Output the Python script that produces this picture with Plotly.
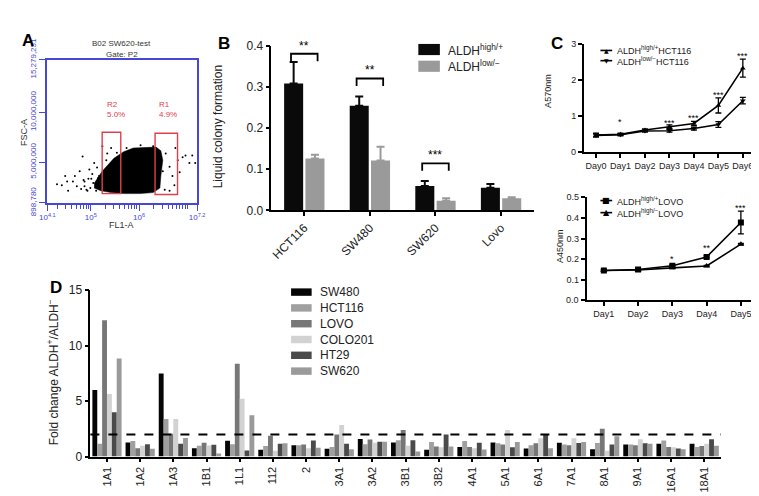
import numpy as np
import plotly.graph_objects as go

W, H = 759, 496
FONT = "Liberation Sans, Arial, Helvetica, sans-serif"
BLUE = "#4646d8"
RED = "#e0404c"

# ---------------- Panel A (flow cytometry) ----------------
a_title = "B02 SW620-test"
a_gate = "Gate: P2"
a_xtick_exp = [4.1, 5, 6, 7.2]
a_xtick_text = ["10<sup>4.1</sup>", "10<sup>5</sup>", "10<sup>6</sup>", "10<sup>7.2</sup>"]
a_ytick_vals = [898780, 5000000, 10000000, 15279251]
a_ytick_text = ["898,780", "5,000,000", "10,000,000", "15,279,251"]
# dense core outline (log10 FL1-A, FSC-A in millions)
a_core_logx = [5.07, 5.235, 5.478, 5.68, 5.88, 6.15, 6.35, 6.45, 6.49, 6.45,
               6.43, 6.29, 6.02, 5.68, 5.42, 5.21, 5.07]
a_core_fsc_m = [2.86, 4.07, 5.38, 6.04, 6.41, 6.50, 6.50, 6.13, 5.19, 3.61,
                2.39, 1.93, 1.83, 1.83, 1.93, 2.11, 2.39]
# sparse events
a_event_logx = [4.30, 4.47, 4.51, 4.53, 4.67, 4.71, 4.77, 4.83, 4.87, 4.97,
                5.07, 5.17, 5.24, 5.34, 5.42, 5.48, 6.55, 6.63, 6.69, 6.73,
                6.80, 6.84, 6.75, 6.90, 6.96, 7.10, 7.16, 7.04, 4.40, 4.63,
                4.93, 5.11, 5.01, 5.13, 5.32, 6.49, 6.53, 6.63, 6.43, 6.29,
                6.03, 5.74, 5.54, 4.87, 4.95, 5.03, 4.91, 4.99, 5.05, 4.85,
                5.15, 4.80]
a_event_fsc_m = [2.77, 3.61, 3.05, 2.11, 3.61, 2.58, 4.07, 5.57, 3.05, 4.26,
                 4.91, 3.61, 6.60, 5.85, 6.41, 2.11, 5.85, 4.54, 3.61, 2.67,
                 5.19, 3.98, 6.41, 5.47, 5.66, 5.66, 4.91, 4.91, 2.67, 3.05,
                 2.11, 2.11, 3.33, 4.45, 5.19, 4.07, 2.21, 2.11, 5.94, 6.60,
                 6.69, 6.41, 5.94, 2.58, 3.33, 3.79, 2.21, 2.40, 2.90, 3.20,
                 3.40, 2.30]
gate_names = ["R2", "R1"]
gate_pct = ["5.0%", "4.9%"]
gate_logx0 = [5.235, 6.33]
gate_logx1 = [5.62, 6.795]
gate_fsc0_m = [1.83, 1.74]
gate_fsc1_m = [7.99, 7.90]
gate_label_logx = [5.29, 6.37]
gate_label_fsc_m = [10.3, 10.3]

# ---------------- Panel B ----------------
b_lines = ["HCT116", "SW480", "SW620", "Lovo"]
b_high = [0.308, 0.254, 0.059, 0.055]
b_high_err = [0.052, 0.022, 0.012, 0.009]
b_low = [0.126, 0.121, 0.023, 0.029]
b_low_err = [0.009, 0.033, 0.006, 0.003]
b_sig_idx = [0, 1, 2]
b_sig_y = [0.38, 0.32, 0.114]
b_sig_text = ["**", "**", "***"]
b_yticks = [0.0, 0.1, 0.2, 0.3, 0.4]
b_names = ["ALDH<sup>high/+</sup>", "ALDH<sup>low/\u2212</sup>"]

# ---------------- Panel C ----------------
c1_days = ["Day0", "Day1", "Day2", "Day3", "Day4", "Day5", "Day6"]
c1_high = [0.48, 0.50, 0.62, 0.71, 0.80, 1.30, 2.33]
c1_high_err = [0.05, 0.03, 0.03, 0.05, 0.06, 0.21, 0.25]
c1_low = [0.47, 0.49, 0.59, 0.60, 0.66, 0.77, 1.43]
c1_low_err = [0.04, 0.03, 0.03, 0.04, 0.04, 0.08, 0.09]
c1_sig_idx = [1, 3, 4, 5, 6]
c1_sig_y = [0.90, 0.87, 1.00, 1.63, 2.72]
c1_sig_text = ["*", "***", "***", "***", "***"]
c1_names = ["ALDH<sup>high/+</sup>HCT116", "ALDH<sup>low/\u2212</sup>HCT116"]
c1_yticks = [0, 1, 2, 3]
c1_yticktext = ["0", "1", "2", "3"]

c2_days = ["Day1", "Day2", "Day3", "Day4", "Day5"]
c2_high = [0.145, 0.150, 0.168, 0.211, 0.378]
c2_high_err = [0.004, 0.004, 0.005, 0.005, 0.055]
c2_low = [0.145, 0.148, 0.158, 0.167, 0.273]
c2_low_err = [0.003, 0.003, 0.003, 0.003, 0.004]
c2_sig_idx = [2, 3, 4]
c2_sig_y = [0.21, 0.264, 0.458]
c2_sig_text = ["*", "**", "***"]
c2_names = ["ALDH<sup>high/+</sup>LOVO", "ALDH<sup>high/\u2212</sup>LOVO"]
c2_yticks = [0.0, 0.1, 0.2, 0.3, 0.4, 0.5]
c2_yticktext = ["0.0", "0.1", "0.2", "0.3", "0.4", "0.5"]

# ---------------- Panel D ----------------
d_genes = ["1A1", "1A2", "1A3", "1B1", "1L1", "112", "2", "3A1", "3A2", "3B1",
           "3B2", "4A1", "5A1", "6A1", "7A1", "8A1", "9A1", "16A1", "18A1"]
d_series = ["SW480", "HCT116", "LOVO", "COLO201", "HT29", "SW620"]
d_sw480 = [6.0, 1.28, 7.5, 0.75, 1.42, 0.61, 1.03, 0.70, 1.59, 1.28,
           0.61, 0.87, 1.28, 0.73, 1.26, 0.67, 1.09, 1.15, 1.15]
d_hct116 = [1.17, 1.40, 3.38, 0.98, 1.12, 0.95, 1.03, 0.87, 1.12, 1.48,
            1.31, 1.40, 1.20, 1.03, 1.09, 1.23, 1.09, 1.45, 0.87]
d_lovo = [12.3, 0.75, 2.07, 1.26, 8.38, 1.87, 1.09, 2.00, 1.54, 2.40,
          0.92, 0.87, 1.09, 1.20, 1.03, 2.51, 1.03, 0.87, 0.95]
d_colo201 = [5.65, 0.98, 3.38, 1.00, 5.22, 0.53, 0.75, 2.85, 1.26, 0.98,
             0.84, 0.75, 2.40, 1.65, 1.65, 0.53, 1.56, 0.84, 1.15]
d_ht29 = [4.0, 1.12, 1.17, 1.06, 0.56, 1.15, 1.45, 1.17, 1.34, 1.48,
          2.00, 1.26, 0.84, 1.98, 1.23, 1.09, 1.20, 0.73, 1.56]
d_sw620 = [8.85, 0.70, 1.68, 0.28, 3.74, 1.20, 0.81, 0.67, 1.34, 0.45,
           0.92, 0.64, 1.31, 0.75, 1.31, 1.84, 1.15, 0.67, 0.98]
d_threshold = 2
d_yticks = [0, 5, 10, 15]

# ---------------- helpers ----------------
def dx(a, b):
    return [a / W, b / W]

def dy(top, bottom):
    return [1 - bottom / H, 1 - top / H]

def px(p):
    return p / W

def py(p):
    return 1 - p / H

def group_offsets(n, group_w, bar_w):
    slot = group_w / n
    return [-group_w / 2 + k * slot + (slot - bar_w) / 2 for k in range(n)]

# subplot boxes in pixels: (left, right, top, bottom)
BOX_A = (32, 185, 32, 186)
BOX_B = (261, 529, 16.7, 194)
BOX_C1 = (580, 755, 15, 131.7)
BOX_C2 = (583, 758, 180, 291)
BOX_D = (76, 720, 280, 459)

fig = go.Figure()
shapes = []
ann = []

def axstyle(size, **kw):
    d = dict(showgrid=False, zeroline=False, showline=True, linecolor="black",
             linewidth=1.6, ticks="outside", ticklen=4, tickwidth=1.5,
             tickcolor="black", tickfont=dict(family=FONT, size=size, color="#222"))
    d.update(kw)
    return d

# ---------- A ----------
fig.add_trace(go.Scatter(x=np.power(10.0, a_core_logx), y=np.array(a_core_fsc_m) * 1e6,
                         mode="lines", fill="toself", fillcolor="black",
                         line=dict(width=0.5, color="black"), xaxis="x", yaxis="y",
                         showlegend=False, hoverinfo="skip"))
fig.add_trace(go.Scatter(x=np.power(10.0, a_event_logx), y=np.array(a_event_fsc_m) * 1e6,
                         mode="markers", marker=dict(size=2, color="black"),
                         xaxis="x", yaxis="y", showlegend=False, hoverinfo="skip"))
for i in range(len(gate_names)):
    shapes.append(dict(type="rect", xref="x", yref="y",
                       x0=10 ** gate_logx0[i], x1=10 ** gate_logx1[i],
                       y0=gate_fsc0_m[i] * 1e6, y1=gate_fsc1_m[i] * 1e6,
                       line=dict(color=RED, width=1.4)))
    ann.append(dict(xref="x", yref="y", x=gate_label_logx[i], y=gate_label_fsc_m[i] * 1e6,
                    text=gate_names[i] + "<br>" + gate_pct[i], showarrow=False,
                    xanchor="left", yanchor="middle", align="left",
                    font=dict(family=FONT, size=8, color=RED)))

# ---------- B ----------
b_x = np.arange(len(b_lines))
b_off = group_offsets(2, 0.65, 0.29)
for k, (vals, errs, col) in enumerate([(b_high, b_high_err, "#0a0a0a"),
                                       (b_low, b_low_err, "#9a9a9a")]):
    fig.add_trace(go.Bar(x=b_x, y=vals, width=0.29, offset=b_off[k],
                         marker=dict(color=col, line=dict(width=0)),
                         error_y=dict(type="data", array=errs, arrayminus=[0] * len(errs),
                                      symmetric=False, color=col, thickness=2, width=4),
                         xaxis="x2", yaxis="y2", showlegend=False))
br_x, br_y = [], []
for i, yb in zip(b_sig_idx, b_sig_y):
    xl = i + b_off[0] + 0.29 / 2 - 0.04
    xr = i + b_off[1] + 0.29 / 2 + 0.04
    br_x += [xl, xl, xr, xr, None]
    br_y += [yb - 0.018, yb, yb, yb - 0.018, None]
fig.add_trace(go.Scatter(x=br_x, y=br_y, mode="lines", line=dict(color="black", width=1.8),
                         xaxis="x2", yaxis="y2", showlegend=False, cliponaxis=False))
for i, yb, t in zip(b_sig_idx, b_sig_y, b_sig_text):
    ann.append(dict(xref="x2", yref="y2", x=i, y=yb, text=t, showarrow=False,
                    yanchor="bottom", yshift=-1, font=dict(family=FONT, size=12, color="black")))

# ---------- C upper ----------
c1_x = np.arange(len(c1_days))
for vals, errs, sym in [(c1_high, c1_high_err, "triangle-up"), (c1_low, c1_low_err, "triangle-down")]:
    fig.add_trace(go.Scatter(x=c1_x, y=vals, mode="lines+markers",
                             line=dict(color="black", width=1.6),
                             marker=dict(symbol=sym, size=5, color="black"),
                             error_y=dict(type="data", array=errs, color="black", thickness=1.3, width=3),
                             xaxis="x3", yaxis="y3", showlegend=False))
for i, yv, t in zip(c1_sig_idx, c1_sig_y, c1_sig_text):
    ann.append(dict(xref="x3", yref="y3", x=i, y=yv, text=t, showarrow=False,
                    yanchor="middle", yshift=-2, font=dict(family=FONT, size=9, color="black")))

# ---------- C lower ----------
c2_x = np.arange(len(c2_days))
for vals, errs, sym, sz in [(c2_high, c2_high_err, "square", 6), (c2_low, c2_low_err, "triangle-up", 6)]:
    fig.add_trace(go.Scatter(x=c2_x, y=vals, mode="lines+markers",
                             line=dict(color="black", width=1.6),
                             marker=dict(symbol=sym, size=sz, color="black"),
                             error_y=dict(type="data", array=errs, color="black", thickness=1.3, width=3),
                             xaxis="x4", yaxis="y4", showlegend=False))
for i, yv, t in zip(c2_sig_idx, c2_sig_y, c2_sig_text):
    ann.append(dict(xref="x4", yref="y4", x=i, y=yv, text=t, showarrow=False,
                    yanchor="middle", yshift=-2, font=dict(family=FONT, size=9, color="black")))

# zero tick labels of the C panels, placed at the bottom-left corner of each box
for box, label in [(BOX_C1, c1_yticktext[0]), (BOX_C2, c2_yticktext[0])]:
    ann.append(dict(xref="paper", yref="paper", x=px(box[0] - 6), y=py(box[3]), text=label,
                    showarrow=False, xanchor="right", yanchor="middle",
                    font=dict(family=FONT, size=9, color="#222")))

# ---------- D ----------
d_x = np.arange(len(d_genes))
d_vals = [d_sw480, d_hct116, d_lovo, d_colo201, d_ht29, d_sw620]
d_colors = ["#050505", "#a0a0a0", "#777777", "#d2d2d2", "#4a4a4a", "#9a9a9a"]
d_bw = 0.88 / len(d_series)
d_off = group_offsets(len(d_series), 0.88, d_bw)
for k, name in enumerate(d_series):
    fig.add_trace(go.Bar(x=d_x, y=d_vals[k], width=d_bw, offset=d_off[k], name=name,
                         marker=dict(color=d_colors[k], line=dict(width=0)),
                         xaxis="x5", yaxis="y5", showlegend=False))
shapes.append(dict(type="line", xref="x5 domain", yref="y5", x0=0, x1=1,
                   y0=d_threshold, y1=d_threshold,
                   line=dict(color="black", width=2, dash="dash")))

# ---------- manual legends ----------
b_leg_cols = ["#0a0a0a", "#9a9a9a"]
for k, name in enumerate(b_names):
    yc = 21 + 18 * k
    shapes.append(dict(type="rect", xref="paper", yref="paper", x0=px(411), x1=px(433),
                       y0=py(yc + 6), y1=py(yc - 6), fillcolor=b_leg_cols[k], line=dict(width=0)))
    ann.append(dict(xref="paper", yref="paper", x=px(439), y=py(yc), text=name,
                    showarrow=False, xanchor="left", yanchor="middle",
                    font=dict(family=FONT, size=12, color="#222")))

for k, name in enumerate(d_series):
    yc = 282 + 17 * k
    shapes.append(dict(type="rect", xref="paper", yref="paper", x0=px(281), x1=px(302),
                       y0=py(yc + 4), y1=py(yc - 4), fillcolor=d_colors[k], line=dict(width=0)))
    ann.append(dict(xref="paper", yref="paper", x=px(309), y=py(yc), text=name,
                    showarrow=False, xanchor="left", yanchor="middle",
                    font=dict(family=FONT, size=12, color="#222")))

for names, glyphs, y0, step, gsize in [(c1_names, ["\u25b2", "\u25bc"], 22, 11, 6),
                                       (c2_names, ["\u25a0", "\u25b2"], 183.5, 13, 8)]:
    for k, name in enumerate(names):
        yc = y0 + step * k
        shapes.append(dict(type="line", xref="paper", yref="paper", x0=px(597), x1=px(609),
                           y0=py(yc), y1=py(yc), line=dict(color="black", width=1.6)))
        ann.append(dict(xref="paper", yref="paper", x=px(603), y=py(yc), text=glyphs[k],
                        showarrow=False, xanchor="center", yanchor="middle",
                        font=dict(family="DejaVu Sans", size=gsize, color="black")))
        ann.append(dict(xref="paper", yref="paper", x=px(612), y=py(yc), text=name,
                        showarrow=False, xanchor="left", yanchor="middle",
                        font=dict(family=FONT, size=9, color="#222")))

# ---------- titles / panel letters ----------
def txt(x, y, t, size, color="#222", angle=0, bold=False, xa="center"):
    ann.append(dict(xref="paper", yref="paper", x=px(x), y=py(y),
                    text=("<b>%s</b>" % t) if bold else t, showarrow=False,
                    textangle=angle, xanchor=xa, yanchor="middle",
                    font=dict(family=FONT, size=size, color=color)))

txt(4, 11, "A", 17, "black", bold=True, xa="left")
txt(204, 14, "B", 17, "black", bold=True, xa="left")
txt(544, 14, "C", 17, "black", bold=True, xa="left")
txt(33, 277, "D", 17, "black", bold=True, xa="left")
txt(108, 14, a_title, 8, "#333")
txt(108, 26, a_gate, 8, "#333")
txt(8, 110, "FSC-A", 9, "#333", angle=-90)
txt(108, 210, "FL1-A", 9, "#333")
txt(206, 104, "Liquid colony formation", 12, "#222", angle=-90)
txt(544, 66, "A570nm", 9, "#222", angle=-90)
txt(555, 232, "A450nm", 9, "#222", angle=-90)
txt(38, 368, "Fold change ALDH<sup>+</sup>/ALDH<sup>\u2212</sup>", 12, "#222", angle=-90)

# ---------- layout ----------
blue_ax = dict(showgrid=False, zeroline=False, showline=True, mirror=True,
               linecolor=BLUE, linewidth=2, ticks="outside", ticklen=6,
               tickwidth=1, tickcolor=BLUE, tickfont=dict(family=FONT, size=8, color=BLUE))

fig.update_layout(
    width=W, height=H, autosize=False,
    margin=dict(l=0, r=0, t=0, b=0),
    paper_bgcolor="white", plot_bgcolor="rgba(0,0,0,0)",
    showlegend=False,
    xaxis=dict(blue_ax, domain=dx(BOX_A[0], BOX_A[1]), type="log", range=[4.1, 7.2], anchor="y",
               tickmode="array", tickvals=list(np.power(10.0, a_xtick_exp)), ticktext=a_xtick_text,
               minor=dict(ticks="outside", ticklen=4, tickcolor=BLUE, dtick="D1", showgrid=False)),
    yaxis=dict(blue_ax, domain=dy(BOX_A[2], BOX_A[3]), range=[a_ytick_vals[0], a_ytick_vals[-1]],
               anchor="x", tickmode="array", tickvals=a_ytick_vals, ticktext=a_ytick_text,
               tickangle=-90),
    xaxis2=axstyle(12, domain=dx(BOX_B[0], BOX_B[1]), range=[-0.5, len(b_lines) - 0.5], anchor="y2",
                   tickmode="array", tickvals=list(b_x), ticktext=b_lines, tickangle=-45),
    yaxis2=axstyle(12, domain=dy(BOX_B[2], BOX_B[3]), range=[0, 0.4], anchor="x2",
                   tickmode="array", tickvals=b_yticks, tickformat=".1f"),
    xaxis3=axstyle(9, domain=dx(BOX_C1[0], BOX_C1[1]), range=[-0.5, len(c1_days) - 0.5], anchor="y3",
                   tickmode="array", tickvals=list(c1_x), ticktext=c1_days, tickangle=0),
    yaxis3=axstyle(9, domain=dy(BOX_C1[2], BOX_C1[3]), range=[0, 3], anchor="x3",
                   tickmode="array", tickvals=c1_yticks, ticktext=[""] + c1_yticktext[1:]),
    xaxis4=axstyle(9, domain=dx(BOX_C2[0], BOX_C2[1]), range=[-0.5, len(c2_days) - 0.5], anchor="y4",
                   tickmode="array", tickvals=list(c2_x), ticktext=c2_days, tickangle=0),
    yaxis4=axstyle(9, domain=dy(BOX_C2[2], BOX_C2[3]), range=[0, 0.5], anchor="x4",
                   tickmode="array", tickvals=c2_yticks, ticktext=[""] + c2_yticktext[1:]),
    xaxis5=axstyle(11, domain=dx(BOX_D[0], BOX_D[1]), range=[-0.5, len(d_genes) - 0.5], anchor="y5",
                   tickmode="array", tickvals=list(d_x), ticktext=d_genes, tickangle=-90),
    yaxis5=axstyle(12, domain=dy(BOX_D[2], BOX_D[3]), range=[0, 15], anchor="x5",
                   tickmode="array", tickvals=d_yticks),
    shapes=shapes,
    annotations=ann,
)

fig.write_html("out.html")
